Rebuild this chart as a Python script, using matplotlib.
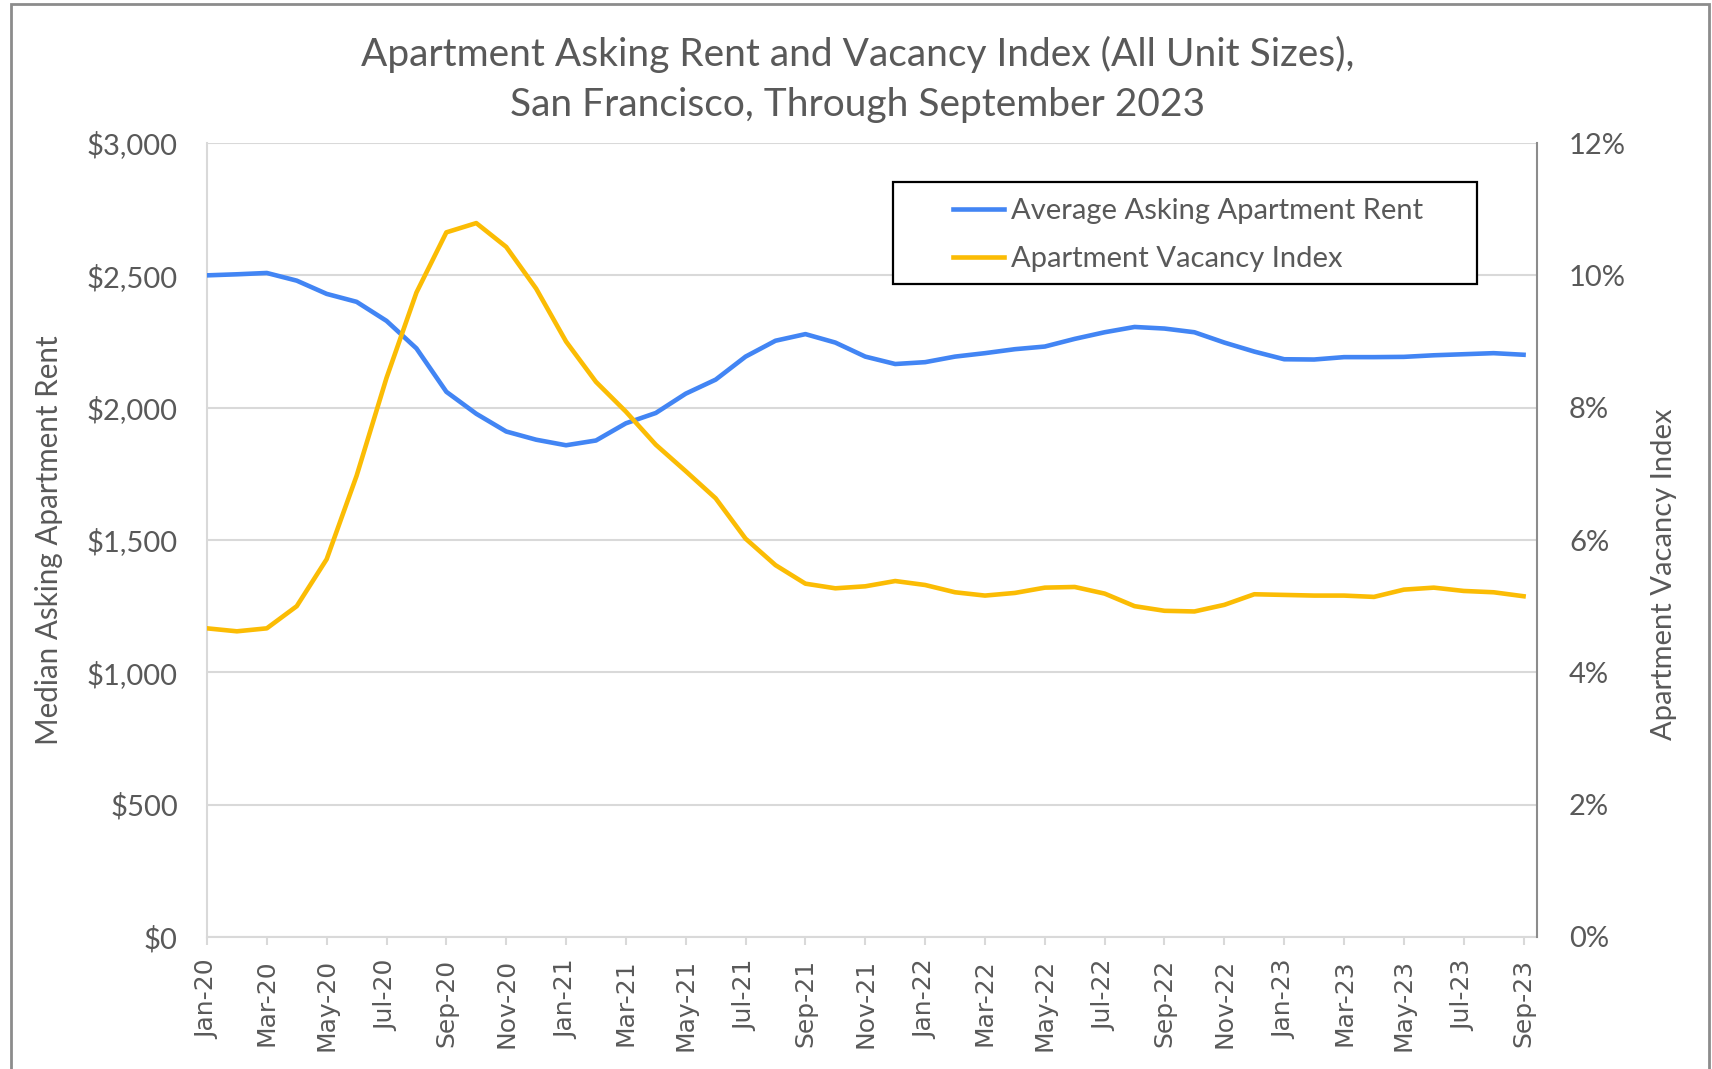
import matplotlib
matplotlib.use("Agg")
import matplotlib.pyplot as plt
from matplotlib.patches import Rectangle
from matplotlib.ticker import FuncFormatter, MultipleLocator

months = ["Jan-20", "Feb-20", "Mar-20", "Apr-20", "May-20", "Jun-20", "Jul-20", "Aug-20", "Sep-20", "Oct-20", "Nov-20", "Dec-20",
          "Jan-21", "Feb-21", "Mar-21", "Apr-21", "May-21", "Jun-21", "Jul-21", "Aug-21", "Sep-21", "Oct-21", "Nov-21", "Dec-21",
          "Jan-22", "Feb-22", "Mar-22", "Apr-22", "May-22", "Jun-22", "Jul-22", "Aug-22", "Sep-22", "Oct-22", "Nov-22", "Dec-22",
          "Jan-23", "Feb-23", "Mar-23", "Apr-23", "May-23", "Jun-23", "Jul-23", "Aug-23", "Sep-23"]

rent = [2500, 2504, 2509, 2480, 2430, 2400, 2328, 2224, 2060, 1977, 1910, 1879,
        1858, 1876, 1941, 1980, 2053, 2106, 2193, 2253, 2278, 2246, 2193, 2165,
        2172, 2193, 2206, 2221, 2231, 2260, 2285, 2305, 2299, 2285, 2246, 2212,
        2183, 2182, 2191, 2191, 2192, 2198, 2202, 2206, 2200]

vacancy = [4.665, 4.62, 4.665, 5.00, 5.71, 6.97, 8.45, 9.74, 10.65, 10.79, 10.43, 9.80,
           9.00, 8.39, 7.94, 7.44, 7.04, 6.63, 6.02, 5.62, 5.34, 5.27, 5.30, 5.38,
           5.32, 5.21, 5.16, 5.20, 5.28, 5.29, 5.19, 5.00, 4.93, 4.92, 5.02, 5.18,
           5.17, 5.16, 5.16, 5.14, 5.25, 5.28, 5.23, 5.21, 5.15]

title = "Apartment Asking Rent and Vacancy Index (All Unit Sizes),\nSan Francisco, Through September 2023"
rent_label = "Average Asking Apartment Rent"
vac_label = "Apartment Vacancy Index"
left_axis_label = "Median Asking Apartment Rent"
right_axis_label = "Apartment Vacancy Index"

BLUE = "#4285F4"
YELLOW = "#FBBC04"
TXT = "#595959"
GRID = "#d9d9d9"
FONT = "Lato"

plt.rcParams["font.family"] = [FONT, "DejaVu Sans"]

fig = plt.figure(figsize=(17.12, 10.69), dpi=100)
ax = fig.add_axes([0.1209, 0.1235, 0.8978 - 0.1209, 0.8662 - 0.1235])
ax2 = ax.twinx()

x = list(range(len(months)))
l1, = ax.plot(x, rent, color=BLUE, lw=3.3, label=rent_label, solid_joinstyle="round", zorder=3)
l2, = ax2.plot(x, vacancy, color=YELLOW, lw=3.3, label=vac_label, solid_joinstyle="round", zorder=3)

ax.set_xlim(0, 44.45)
ax.set_ylim(0, 3000)
ax2.set_ylim(0, 12)
ax.yaxis.set_major_locator(MultipleLocator(500))
ax2.yaxis.set_major_locator(MultipleLocator(2))
ax.yaxis.set_major_formatter(FuncFormatter(lambda v, p: "${:,.0f}".format(v)))
ax2.yaxis.set_major_formatter(FuncFormatter(lambda v, p: "{:.0f}%".format(v)))

ax.set_xticks(x[::2])
ax.set_xticklabels(months[::2], rotation=90, family="DejaVu Sans", fontsize=18, color=TXT)

ax.grid(axis="y", color=GRID, lw=1.5, zorder=0)
ax.set_axisbelow(True)

for a in (ax, ax2):
    for s in a.spines.values():
        s.set_visible(False)
ax.spines["left"].set_visible(True)
ax.spines["left"].set_color(GRID)
ax.spines["left"].set_linewidth(1.5)
ax.spines["bottom"].set_visible(True)
ax.spines["bottom"].set_color(GRID)
ax.spines["bottom"].set_linewidth(1.5)
ax2.spines["right"].set_visible(True)
ax2.spines["right"].set_color("#8c8c8c")
ax2.spines["right"].set_linewidth(1.5)

ax.tick_params(axis="y", length=0, pad=21, labelsize=21, labelcolor=TXT)
ax2.tick_params(axis="y", length=0, pad=23, labelsize=21, labelcolor=TXT)
ax.tick_params(axis="x", length=6, width=1.5, color=GRID, pad=10)

ax.set_ylabel(left_axis_label, fontsize=21.3, color=TXT)
ax.yaxis.set_label_coords(-0.108, 0.5)
ax2.set_ylabel(right_axis_label, fontsize=21, color=TXT, rotation=90)
ax2.yaxis.set_label_coords(1.086, 0.457)

fig.text(0.5007, 0.9255, title, ha="center", va="center", fontsize=28, color=TXT, linespacing=1.47)

# legend box and entries
box = Rectangle((0.516, 0.822), 0.439, 0.129, transform=ax2.transAxes, facecolor="white",
                edgecolor="black", lw=1.6, zorder=4, clip_on=False)
ax2.add_patch(box)
leg = ax2.legend(handles=[l1, l2], loc="center left", bbox_to_anchor=(0.561, 0.884), frameon=False,
                 fontsize=21, handlelength=1.75, handletextpad=0.25, labelspacing=0.77, borderpad=0,
                 borderaxespad=0, labelcolor=TXT)
leg.set_zorder(6)

fig.patches.append(Rectangle((0.0065, -0.01), 0.9915, 1.0063, transform=fig.transFigure, fill=False,
                             edgecolor="#8c8c8c", lw=2))

fig.savefig("out.png", dpi=100)
